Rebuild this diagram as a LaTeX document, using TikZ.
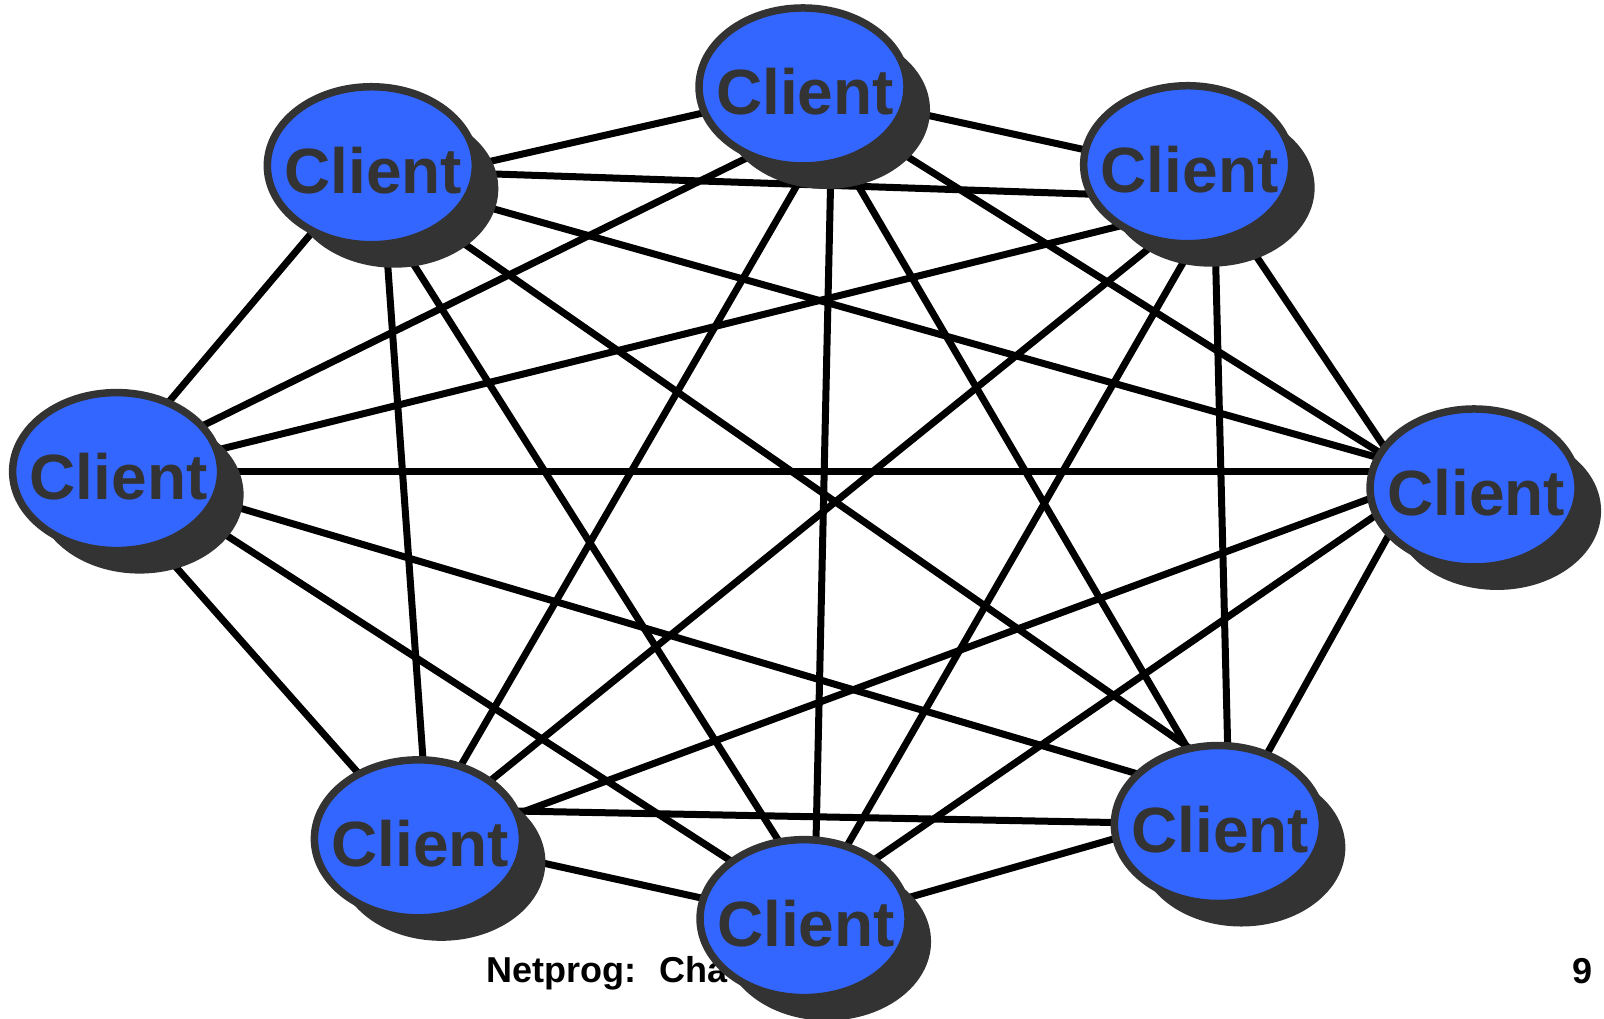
\documentclass[tikz,border=0pt]{standalone}
\usepackage{fontspec}
\setmainfont{Liberation Sans}
\usetikzlibrary{shapes.geometric,shadows,calc}
\definecolor{clientblue}{HTML}{3366FF}
\definecolor{clientgray}{HTML}{333333}
\pgfdeclarelayer{wires}
\pgfsetlayers{wires,main}
\tikzset{
  client/.style={ellipse, draw=clientgray, line width=7.5pt, fill=clientblue,
    minimum width=208pt, minimum height=158pt, inner sep=0pt,
    text=clientgray, font=\fontsize{64}{64}\selectfont\bfseries,
    text height=55pt, text depth=0pt,
    drop shadow={shadow xshift=23pt, shadow yshift=-23pt, fill=clientgray, opacity=1}},
  wire/.style={draw=black, line width=7pt},
  footer/.style={font=\fontsize{36}{36}\selectfont\bfseries, text=black, inner sep=0pt}
}
\newcommand{\clientlabel}{\makebox[0pt]{\kern4pt Client}}
\begin{document}
\begin{tikzpicture}[x=1.023pt, y=-1.023pt]
\useasboundingbox (0,0) rectangle (1568,996);

% the eight clients
\node[client] (T)  at (785,85)   {\clientlabel};
\node[client] (TL) at (363,162)  {\clientlabel};
\node[client] (TR) at (1161,161) {\clientlabel};
\node[client] (L)  at (114,461)  {\clientlabel};
\node[client] (R)  at (1441,477) {\clientlabel};
\node[client] (BR) at (1191,806) {\clientlabel};
\node[client] (BL) at (409,820)  {\clientlabel};
\node[client] (B)  at (786,898)  {\clientlabel};

\begin{pgfonlayer}{wires}
% slide footer, partly hidden by the bottom client
\node[footer, anchor=base west] (foot) at (475,960) {Netprog:\hspace{0.66em}Cha};
\node[footer, anchor=base east] (page) at (1557,961) {9};

% full mesh: every client linked to every other
\draw[wire] ($(T.center)+(1,3)$)    -- ($(TL.center)+(5,21)$);
\draw[wire] ($(T.center)+(0,1)$)    -- ($(TR.center)+(-2,7)$);
\draw[wire] ($(T.center)+(17,34)$)  -- ($(L.center)+(-1,-3)$);
\draw[wire] ($(T.center)+(-2,3)$)   -- ($(R.center)+(-10,17)$);
\draw[wire] ($(T.center)+(37,22)$)  -- ($(BL.center)+(0,0)$);
\draw[wire] ($(T.center)+(29,1)$)   -- ($(B.center)+(10,0)$);
\draw[wire] ($(T.center)+(-2,1)$)   -- ($(BR.center)+(10,-6)$);
\draw[wire] ($(TL.center)+(0,4)$)   -- ($(TR.center)+(-1,32)$);
\draw[wire] ($(TR.center)+(10,41)$) -- ($(L.center)+(1,3)$);
\draw[wire] ($(TR.center)+(5,-3)$)  -- ($(R.center)+(-42,28)$);
\draw[wire] ($(TR.center)+(25,-1)$) -- ($(BR.center)+(11,0)$);
\draw[wire] ($(TR.center)+(38,22)$) -- ($(B.center)+(1,0)$);
\draw[wire] ($(TR.center)+(25,31)$) -- ($(BL.center)+(0,0)$);
\draw[wire] ($(TL.center)+(-2,-1)$) -- ($(L.center)+(-4,-3)$);
\draw[wire] ($(TL.center)+(-2,8)$)  -- ($(R.center)+(1,-3)$);
\draw[wire] ($(TL.center)+(9,-1)$)  -- ($(BL.center)+(10,-1)$);
\draw[wire] ($(TL.center)+(-14,9)$) -- ($(B.center)+(17,-10)$);
\draw[wire] ($(TL.center)+(-6,9)$)  -- ($(BR.center)+(26,-37)$);
\draw[wire] ($(L.center)+(0,0)$)    -- ($(R.center)+(0,-16)$);
\draw[wire] ($(L.center)+(0,0)$)    -- ($(BR.center)+(7,-24)$);
\draw[wire] ($(L.center)+(3,-5)$)   -- ($(B.center)+(5,-7)$);
\draw[wire] ($(L.center)+(-14,12)$) -- ($(BL.center)+(-1,1)$);
\draw[wire] ($(R.center)+(-9,-24)$) -- ($(BL.center)+(4,10)$);
\draw[wire] ($(R.center)+(-18,-27)$) -- ($(B.center)+(-5,-7)$);
\draw[wire] ($(R.center)+(-44,-25)$) -- ($(BR.center)+(7,4)$);
\draw[wire] ($(BL.center)+(1,-29)$) -- ($(BR.center)+(0,0)$);
\draw[wire] ($(BR.center)+(-4,-14)$) -- ($(B.center)+(2,8)$);
\draw[wire] ($(BL.center)+(1,-3)$)  -- ($(B.center)+(0,2)$);
\end{pgfonlayer}
\end{tikzpicture}
\end{document}
